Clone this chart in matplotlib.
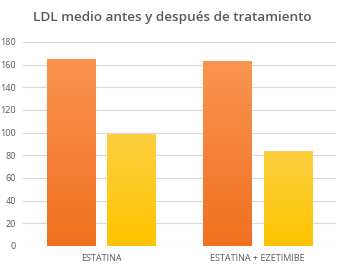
import numpy as np
import matplotlib.pyplot as plt
from matplotlib.colors import LinearSegmentedColormap

categories = ["ESTATINA", "ESTATINA + EZETIMIBE"]
antes = [165, 163]
despues = [99, 84]
yticks = [0, 20, 40, 60, 80, 100, 120, 140, 160, 180]

plt.rcParams['font.family'] = ['Open Sans', 'DejaVu Sans']

fig = plt.figure(figsize=(3.45, 2.72), dpi=100)
ax = fig.add_axes([0.067, 0.0956, 0.907, 0.75])

x = np.arange(len(categories))
width = 0.31
offset = 0.194

orange_cmap = LinearSegmentedColormap.from_list("og", ["#F07020", "#FA9450"])
yellow_cmap = LinearSegmentedColormap.from_list("yg", ["#FFC400", "#FDD040"])

bars_a = ax.bar(x - offset, antes, width, color="#F4802F", zorder=2)
bars_d = ax.bar(x + offset, despues, width, color="#FFC80F", zorder=2)

# vertical gradient fill, clipped to each bar
grad = np.linspace(0, 1, 256).reshape(-1, 1)
for bars, cmap in [(bars_a, orange_cmap), (bars_d, yellow_cmap)]:
    for b in bars:
        x0, y0 = b.get_x(), b.get_y()
        im = ax.imshow(grad, cmap=cmap, origin="lower", aspect="auto",
                       extent=[x0, x0 + b.get_width(), y0, y0 + b.get_height()],
                       zorder=3)
        im.set_clip_path(b)

ax.set_xlim(-0.5, 1.5)
ax.set_ylim(0, 180)
ax.set_yticks(yticks)
ax.set_xticks(x)
ax.set_xticklabels(categories)
ax.grid(axis="y", color="#D9D9D9", linewidth=0.8, zorder=0)
ax.set_axisbelow(True)
for s in ax.spines.values():
    s.set_visible(False)
ax.tick_params(axis="both", length=0, labelsize=6.5, colors="#595959", pad=6)
ax.tick_params(axis="y", pad=5)

fig.text(0.5, 0.935, "LDL medio antes y después de tratamiento", ha="center", va="center",
         fontsize=9.7, fontweight="semibold", color="#595959")

fig.savefig("out.png", dpi=100)
